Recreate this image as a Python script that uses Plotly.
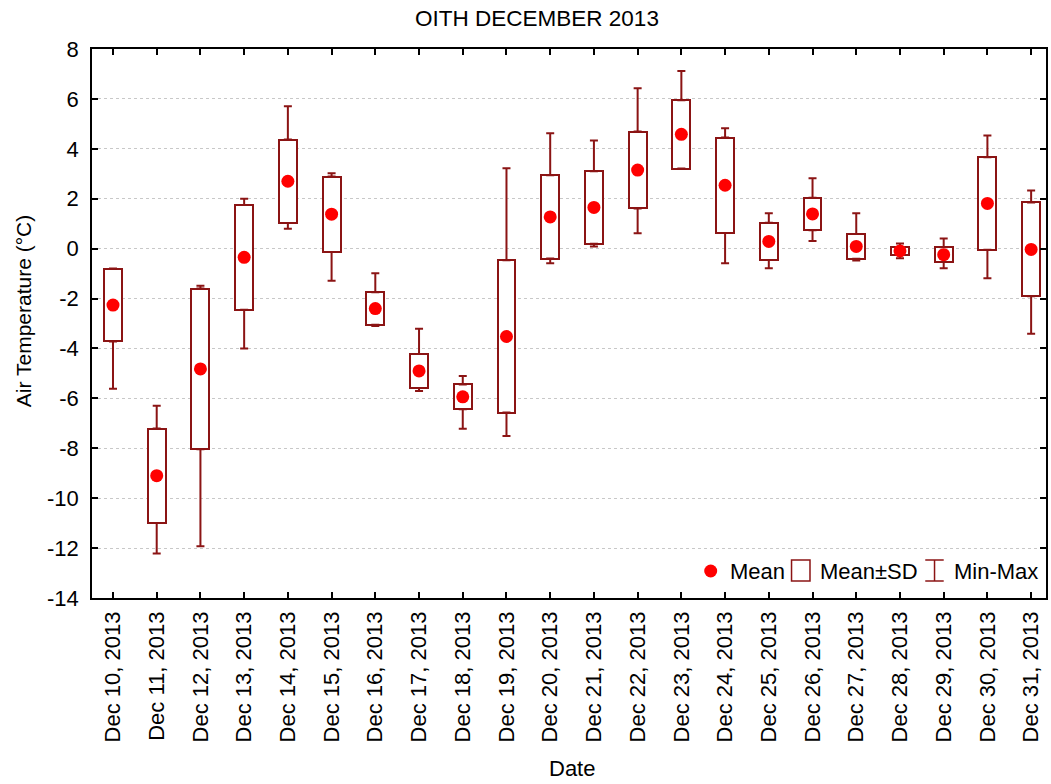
import plotly.graph_objects as go

# ---------------- data ----------------
dates = ["Dec 10, 2013", "Dec 11, 2013", "Dec 12, 2013", "Dec 13, 2013", "Dec 14, 2013",
         "Dec 15, 2013", "Dec 16, 2013", "Dec 17, 2013", "Dec 18, 2013", "Dec 19, 2013",
         "Dec 20, 2013", "Dec 21, 2013", "Dec 22, 2013", "Dec 23, 2013", "Dec 24, 2013",
         "Dec 25, 2013", "Dec 26, 2013", "Dec 27, 2013", "Dec 28, 2013", "Dec 29, 2013",
         "Dec 30, 2013", "Dec 31, 2013"]
mean_t = [-2.26, -9.10, -4.82, -0.35, 2.70, 1.38, -2.40, -4.90, -5.94, -3.52,
          1.27, 1.65, 3.15, 4.58, 2.54, 0.29, 1.39, 0.09, -0.09, -0.24, 1.81, -0.03]
sd_t = [1.46, 1.89, 3.22, 2.10, 1.67, 1.51, 0.65, 0.68, 0.50, 3.05,
        1.67, 1.45, 1.54, 1.37, 1.91, 0.75, 0.65, 0.50, 0.15, 0.30, 1.85, 1.88]
min_t = [-5.61, -12.22, -11.93, -4.00, 0.80, -1.29, -3.10, -5.70, -7.22, -7.51,
         -0.59, 0.09, 0.62, 3.20, -0.59, -0.79, 0.31, -0.48, -0.39, -0.79, -1.19, -3.41]
max_t = [-0.80, -6.30, -1.49, 2.00, 5.71, 3.02, -0.99, -3.21, -5.10, 3.22,
         4.62, 4.33, 6.43, 7.12, 4.82, 1.42, 2.82, 1.42, 0.21, 0.41, 4.53, 2.33]
y_ticks = list(range(-14, 9, 2))

# ---------------- derived ----------------
lo = [m - s for m, s in zip(mean_t, sd_t)]
hi = [m + s for m, s in zip(mean_t, sd_t)]
up_err = [max(mx - h, 0) for mx, h in zip(max_t, hi)]
dn_err = [max(l - mn, 0) for mn, l in zip(min_t, lo)]

BOX = "#8b1414"
RED = "#ff0000"
FONT = "Liberation Sans, Arial, sans-serif"

W, H = 1051, 784
L, R, T, B = 92, 1048, 49, 598


def pxx(p):
    return (p - L) / (R - L)


def pxy(p):
    return (B - p) / (B - T)


fig = go.Figure()

# Mean ± SD boxes
fig.add_trace(go.Bar(
    x=dates, y=[h - l for h, l in zip(hi, lo)], base=lo, width=0.41,
    marker=dict(color="white", line=dict(color=BOX, width=2)),
    showlegend=False, hoverinfo="skip"))

# Whiskers (Min-Max)
fig.add_trace(go.Scatter(
    x=dates, y=hi, mode="markers", marker=dict(size=0.1, color=BOX, opacity=0),
    error_y=dict(type="data", symmetric=False, array=up_err, arrayminus=[0] * len(dates),
                 color=BOX, thickness=2, width=4),
    showlegend=False, hoverinfo="skip"))
fig.add_trace(go.Scatter(
    x=dates, y=lo, mode="markers", marker=dict(size=0.1, color=BOX, opacity=0),
    error_y=dict(type="data", symmetric=False, array=[0] * len(dates), arrayminus=dn_err,
                 color=BOX, thickness=2, width=4),
    showlegend=False, hoverinfo="skip"))

# Means
fig.add_trace(go.Scatter(
    x=dates, y=mean_t, mode="markers",
    marker=dict(symbol="circle", size=13, color=RED),
    showlegend=False))

# ---------------- manual legend ----------------
shapes = []
ly = 571
shapes.append(dict(type="circle", xref="paper", yref="paper",
                   x0=pxx(705.5), x1=pxx(718.5), y0=pxy(577.5), y1=pxy(564.5),
                   fillcolor=RED, line=dict(color=RED, width=0)))
shapes.append(dict(type="rect", xref="paper", yref="paper",
                   x0=pxx(793), x1=pxx(811.5), y0=pxy(581), y1=pxy(560),
                   fillcolor="white", line=dict(color=BOX, width=1.5)))
shapes.append(dict(type="line", xref="paper", yref="paper",
                   x0=pxx(936.3), x1=pxx(936.3), y0=pxy(581), y1=pxy(560),
                   line=dict(color=BOX, width=1.5)))
shapes.append(dict(type="line", xref="paper", yref="paper",
                   x0=pxx(927), x1=pxx(945.5), y0=pxy(560), y1=pxy(560),
                   line=dict(color=BOX, width=1.5)))
shapes.append(dict(type="line", xref="paper", yref="paper",
                   x0=pxx(927), x1=pxx(945.5), y0=pxy(581), y1=pxy(581),
                   line=dict(color=BOX, width=1.5)))

annotations = []
for txt, x0 in [("Mean", 729), ("Mean±SD", 820), ("Min-Max", 954)]:
    annotations.append(dict(text=txt, xref="paper", yref="paper", x=pxx(x0), y=pxy(ly),
                            xanchor="left", yanchor="middle", showarrow=False,
                            font=dict(size=22, color="black", family=FONT)))

# axis titles
annotations.append(dict(text="Date", xref="paper", yref="paper", x=pxx(573), y=pxy(768),
                        xanchor="center", yanchor="middle", showarrow=False,
                        font=dict(size=22, color="black", family=FONT)))
annotations.append(dict(text="Air Temperature (°C)", xref="paper", yref="paper",
                        x=pxx(23), y=pxy(311), textangle=-90,
                        xanchor="center", yanchor="middle", showarrow=False,
                        font=dict(size=21, color="black", family=FONT)))

fig.update_layout(
    width=W, height=H,
    margin=dict(l=L, r=W - R, t=T, b=H - B, pad=0),
    paper_bgcolor="white", plot_bgcolor="white",
    font=dict(family=FONT, size=22, color="black"),
    title=dict(text="OITH DECEMBER 2013", x=537 / W, xref="container", xanchor="center",
               y=1 - 18 / H, yref="container", yanchor="middle",
               font=dict(size=22.5, color="black", family=FONT)),
    shapes=shapes, annotations=annotations,
    bargap=0, showlegend=False,
)

fig.update_xaxes(
    type="category", categoryorder="array", categoryarray=dates,
    range=[-0.48, 21.34], tickangle=-90, tickfont=dict(size=22),
    ticklabelstandoff=3,
    showline=True, linecolor="black", linewidth=1.5, mirror="ticks",
    ticks="inside", ticklen=6, tickwidth=1.5, tickcolor="black",
    showgrid=False, zeroline=False)

fig.update_yaxes(
    range=[-14, 8], tickvals=y_ticks, ticktext=[str(v) for v in y_ticks],
    tickfont=dict(size=22), ticklabelstandoff=7,
    showline=True, linecolor="black", linewidth=1.5, mirror="ticks",
    ticks="inside", ticklen=6, tickwidth=1.5, tickcolor="black",
    showgrid=True, gridcolor="#c8c8c8", griddash="dot", gridwidth=1,
    zeroline=False)

fig.write_html("out.html", config={"displayModeBar": False},
               post_script="document.body.style.margin='0';document.body.style.overflow='hidden';")
